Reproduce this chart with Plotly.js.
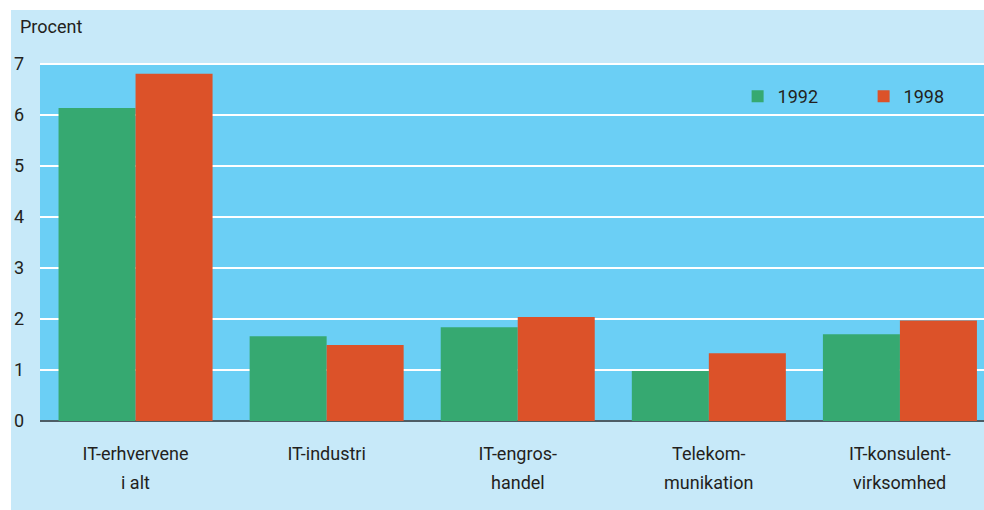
<!DOCTYPE html>
<html>
<head>
<meta charset="utf-8">
<script src="https://cdn.plot.ly/plotly-3.0.1.min.js"></script>
<style>
  html, body { margin: 0; padding: 0; background: #ffffff; }
  #chart { position: absolute; left: 11px; top: 10px; width: 973px; height: 500px; }
</style>
</head>
<body>
<div id="chart"></div>
<script>
// categories (two label lines) and values
const labelLine1 = ["IT-erhvervene", "IT-industri", "IT-engros-", "Telekom-", "IT-konsulent-"];
const labelLine2 = ["i alt", "", "handel", "munikation", "virksomhed"];
const values1992 = [6.14, 1.66, 1.84, 0.98, 1.70];
const values1998 = [6.81, 1.49, 2.04, 1.33, 1.97];
const yTicks = [0, 1, 2, 3, 4, 5, 6, 7];

const textColor = "#231f20";
const font = { family: "Roboto, sans-serif", size: 18, color: textColor };
const catIdx = labelLine1.map((_, i) => i);

const traces = [
  {
    x: catIdx,
    y: values1992,
    name: "1992",
    type: "bar",
    marker: { color: "#36a971" },
  },
  {
    x: catIdx,
    y: values1998,
    name: "1998",
    type: "bar",
    marker: { color: "#dc5229" },
  },
];

// second line of each category label, placed under the tick label
const secondLines = labelLine2.map((t, i) => ({
  text: t,
  xref: "x",
  yref: "paper",
  x: i,
  y: 0,
  yanchor: "middle",
  yshift: -61,
  showarrow: false,
  font: font,
}));

const layout = {
  width: 973,
  height: 500,
  margin: { l: 29, r: 0, t: 53, b: 89, autoexpand: false },
  paper_bgcolor: "#c7e9f9",
  plot_bgcolor: "#6bcff5",
  font: font,
  barmode: "group",
  bargap: 0.194,
  bargroupgap: 0,
  showlegend: true,
  legend: {
    orientation: "h",
    x: 0.739,
    y: 0.958,
    xanchor: "left",
    yanchor: "top",
    bgcolor: "rgba(0,0,0,0)",
    entrywidth: 81,
    itemwidth: 30,
    font: font,
  },
  xaxis: {
    type: "linear",
    range: [-0.5, 4.44],
    tickvals: catIdx,
    ticktext: labelLine1,
    showgrid: false,
    zeroline: false,
    showline: false,
    ticks: "",
    ticklabelstandoff: 20,
    tickfont: font,
    fixedrange: true,
  },
  yaxis: {
    range: [0, 7.02],
    tickvals: yTicks,
    ticktext: yTicks.map(String),
    showgrid: true,
    gridcolor: "#ffffff",
    gridwidth: 2,
    zeroline: true,
    zerolinecolor: "#4d5d66",
    zerolinewidth: 2,
    showline: false,
    ticks: "",
    ticklabelstandoff: 15,
    tickfont: font,
    fixedrange: true,
  },
  annotations: [
    {
      text: "Procent",
      xref: "paper",
      yref: "paper",
      x: 0,
      y: 1,
      xanchor: "left",
      yanchor: "middle",
      xshift: -22,
      yshift: 37,
      showarrow: false,
      font: font,
    },
  ].concat(secondLines),
};

Plotly.newPlot("chart", traces, layout, { displayModeBar: false, staticPlot: true });
</script>
</body>
</html>
